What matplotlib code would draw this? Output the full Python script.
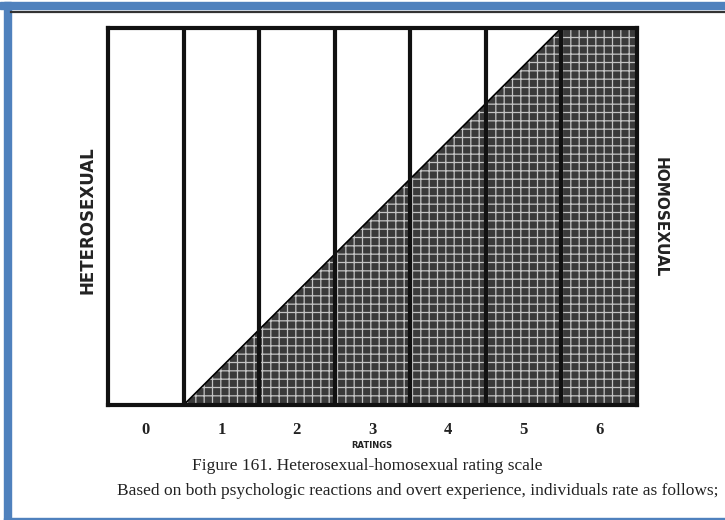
import matplotlib
matplotlib.use("Agg")
import matplotlib.pyplot as plt
from matplotlib.patches import Rectangle

# ---- data ----
ratings = [0, 1, 2, 3, 4, 5, 6]
tick_labels = ["0", "1", "2", "3", "4", "5", "6"]
# column boundaries and homosexual share (fraction of column height) at each boundary
boundaries = [0, 1, 2, 3, 4, 5, 6, 7]
homo_share = [0.0, 0.0, 0.2, 0.4, 0.6, 0.8, 1.0, 1.0]
left_label = "HETEROSEXUAL"
right_label = "HOMOSEXUAL"
axis_title = "RATINGS"
caption = "Figure 161. Heterosexual-homosexual rating scale"
subcaption = "Based on both psychologic reactions and overt experience, individuals rate as follows;"

W, H = 725, 520
plt.rcParams["hatch.linewidth"] = 0.9
fig = plt.figure(figsize=(W / 100, H / 100), dpi=100)
fig.patch.set_facecolor("white")

# background axes in pixel coordinates for frame
bg = fig.add_axes([0, 0, 1, 1])
bg.set_xlim(0, W)
bg.set_ylim(H, 0)
bg.axis("off")
blue = "#4f81bd"
bg.add_patch(Rectangle((0, 2), W, 7, color=blue, zorder=1))
bg.add_patch(Rectangle((4, 2), 7, H, color=blue, zorder=1))
bg.add_patch(Rectangle((4, 518), W, 1.5, color=blue, zorder=1))
bg.plot([11, W], [12, 12], color="#333333", lw=1.6, zorder=1)

# chart axes
x0, x1, yt, yb = 108, 637, 28, 405
ax = fig.add_axes([x0 / W, 1 - yb / H, (x1 - x0) / W, (yb - yt) / H])
ax.set_xlim(0, 7)
ax.set_ylim(0, 1)
ax.fill_between(boundaries, 0, homo_share, facecolor="#3a3a3a",
                edgecolor="#c4c4c4", hatch="++", linewidth=0, zorder=1)
ax.plot(boundaries[1:7], homo_share[1:7], color="black", lw=1.2, zorder=2)
for b in boundaries[1:-1]:
    ax.axvline(b, color="#111111", lw=3, zorder=3)
for s in ax.spines.values():
    s.set_linewidth(3)
    s.set_color("#111111")
ax.set_xticks([r + 0.5 for r in ratings])
ax.set_xticklabels(tick_labels, fontfamily="Liberation Serif", fontsize=12,
                   fontweight="bold", color="#222222")
ax.tick_params(axis="x", length=0, pad=12)
ax.set_yticks([])

# side labels
fig.text(88 / W, 1 - 220 / H, left_label, rotation=90, ha="center", va="center",
         fontsize=12, fontweight="bold", color="#222222", family="DejaVu Sans")
fig.text(660 / W, 1 - 217 / H, right_label, rotation=-90, ha="center", va="center",
         fontsize=11, fontweight="bold", color="#222222", family="DejaVu Sans")

fig.text(372 / W, 1 - 446 / H, axis_title, ha="center", va="center", fontsize=6,
         fontweight="bold", color="#222222", family="DejaVu Sans")
fig.text(367 / W, 1 - 466 / H, caption, ha="center", va="center", fontsize=12.5,
         color="#222222", family="Liberation Serif")
fig.text(117 / W, 1 - 491 / H, subcaption, ha="left", va="center", fontsize=12.5,
         color="#222222", family="Liberation Serif")

fig.savefig("out.png", dpi=100)
